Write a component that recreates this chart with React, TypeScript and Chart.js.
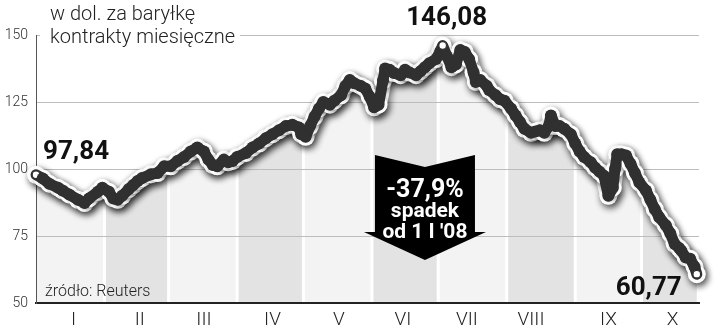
import React, { useEffect, useRef } from 'react';
import { Chart, registerables } from 'chart.js';

Chart.register(...registerables);

// ---- data ----
const tradingDays = [
  0, 3, 6, 10, 12, 15, 19, 22, 24, 28, 30, 33, 35, 37, 39, 42, 44, 46, 48, 52,
  55, 58, 61, 64, 67, 70, 73, 76, 78, 80, 82, 85, 87, 89, 91, 95, 98, 101, 104, 107,
  110, 113, 116, 119, 120, 122, 124, 126, 128, 130, 133, 135, 138, 140, 142, 144, 147, 149, 151, 153,
  155, 157, 158, 160, 162, 165, 167, 169, 172, 174, 176, 178, 181, 183, 184, 186, 188, 190, 192, 194,
  196, 198, 199, 201, 204, 205, 208, 210, 212, 215, 217, 219, 221, 224, 226, 228, 230, 232, 233, 235,
  237, 239, 242, 244, 246, 248, 251, 253, 255, 257, 259, 261, 262, 263, 265, 267, 269, 271, 273, 276,
  278, 280, 282, 285, 287, 289, 291, 292, 294, 296, 298, 299,
];
const prices = [
  97.84, 96.5, 94.5, 93, 92, 90.5, 88.5, 87.3, 89, 91.5, 93, 91.5, 89, 88.5, 90, 92.5, 94, 95.5, 96.6, 98,
  98.5, 101, 101, 103, 104.5, 106.5, 108, 106.5, 103.5, 101.5, 101, 103.5, 102.5, 103, 104.5, 106, 108, 109.5, 111.5, 113,
  114.5, 116, 116.5, 115.5, 113, 112, 116, 119.5, 122.5, 125, 124, 125.5, 127.5, 131, 133.2, 132, 131, 130, 127, 123,
  124, 133, 137.5, 137, 135.8, 135, 137, 136, 135, 136.5, 138, 139.5, 141, 144, 146.08, 142, 138, 139, 144.4, 143.7,
  141, 136, 132.5, 133.2, 131, 129.5, 127.5, 126, 125.5, 122.5, 120, 117.5, 115, 113.5, 114, 114.5, 113.5, 116, 120, 116,
  116, 115, 113, 109.5, 106.5, 104.5, 102.5, 100.5, 99, 97.5, 90, 93, 100, 105.5, 105.5, 105, 102, 98.5, 95, 92,
  88.5, 85, 82, 79, 76, 72, 70.5, 69.5, 67, 66.5, 63.5, 60.77,
];
const monthLabels = ['I', 'II', 'III', 'IV', 'V', 'VI', 'VII', 'VIII', 'IX', 'X'];
const monthStartDays = [0, 31, 60, 91, 121, 152, 182, 213, 244, 274];
const monthLabelDays = [17, 47, 76, 107, 137, 166, 195, 224, 259, 288];
const lastDay = 300;
const yMin = 50;
const yMax = 150;
const yStep = 25;
const titleLines = ['w dol. za baryłkę', 'kontrakty miesięczne'];
const sourceText = 'źródło: Reuters';
const startLabel = '97,84';
const peakLabel = '146,08';
const endLabel = '60,77';
const arrowLines = ['-37,9%', 'spadek', "od 1 I '08"];
const arrowDay = 176;
const arrowTopValue = 105.2;
const arrowTipValue = 66;

const peakIndex = prices.indexOf(Math.max(...prices));
const lastIndex = prices.length - 1;

const LINE_DARK = '#303030';
const FONT = 'Roboto, "Open Sans", sans-serif';

const isMarker = (i: number) => i === 0 || i === peakIndex || i === lastIndex;

const bandsPlugin = {
  id: 'monthBands',
  beforeDraw(chart: any) {
    const meta = chart.getDatasetMeta(0);
    const pts = meta.data;
    if (!pts || !pts.length) return;
    const { top, bottom } = chart.chartArea;
    const xs = chart.scales.x;
    const ctx = chart.ctx;
    ctx.save();
    ctx.beginPath();
    ctx.moveTo(pts[0].x, bottom);
    pts.forEach((p: any) => ctx.lineTo(p.x, p.y));
    ctx.lineTo(pts[pts.length - 1].x, bottom);
    ctx.closePath();
    ctx.clip();
    monthStartDays.forEach((d, i) => {
      const x0 = xs.getPixelForValue(d);
      const x1 = xs.getPixelForValue(i + 1 < monthStartDays.length ? monthStartDays[i + 1] : lastDay);
      ctx.fillStyle = i % 2 ? '#e3e3e3' : '#f3f3f3';
      const g = i === 0 ? 0 : 1.5;
      ctx.fillRect(x0 + g, top - 20, x1 - x0 - g - 1.5, bottom - top + 20);
    });
    ctx.restore();
  },
};

const shadowPlugin = {
  id: 'lineShadow',
  beforeDatasetDraw(chart: any, args: any) {
    if (args.index === 1) {
      const c = chart.ctx;
      c.save();
      c.shadowColor = 'rgba(0,0,0,0.45)';
      c.shadowBlur = 7;
      c.shadowOffsetX = 2;
      c.shadowOffsetY = 3;
    }
  },
  afterDatasetDraw(chart: any, args: any) {
    if (args.index === 1) chart.ctx.restore();
  },
};

const textPlugin = {
  id: 'annotations',
  afterDraw(chart: any) {
    const ctx = chart.ctx;
    const xs = chart.scales.x;
    const ys = chart.scales.y;
    ctx.save();

    // title with white backing (hides the top grid line)
    ctx.fillStyle = '#fff';
    ctx.fillRect(40, 0, 200, 47);
    ctx.fillStyle = '#222';
    ctx.font = `300 20px ${FONT}`;
    ctx.textAlign = 'left';
    ctx.textBaseline = 'alphabetic';
    ctx.fillText(titleLines[0], 50, 20);
    ctx.fillText(titleLines[1], 50, 43);

    // source
    ctx.font = `300 16px ${FONT}`;
    ctx.fillStyle = '#222';
    ctx.fillText(sourceText, 45, 296);

    // value labels
    ctx.fillStyle = '#111';
    ctx.font = `700 26px ${FONT}`;
    ctx.textBaseline = 'middle';
    const p0x = xs.getPixelForValue(tradingDays[0]);
    const p0y = ys.getPixelForValue(prices[0]);
    ctx.textAlign = 'left';
    ctx.fillText(startLabel, p0x + 7, p0y - 22);
    const pkx = xs.getPixelForValue(tradingDays[peakIndex]);
    const pky = ys.getPixelForValue(prices[peakIndex]);
    ctx.textAlign = 'center';
    ctx.fillText(peakLabel, pkx + 4, pky - 27);
    const plx = xs.getPixelForValue(tradingDays[lastIndex]);
    const ply = ys.getPixelForValue(prices[lastIndex]);
    ctx.textAlign = 'right';
    ctx.fillText(endLabel, plx - 15, ply + 14);

    // arrow
    const cx = xs.getPixelForValue(arrowDay);
    const topY = ys.getPixelForValue(arrowTopValue);
    const tipY = ys.getPixelForValue(arrowTipValue);
    const bodyHalf = 50;
    const wingHalf = 61;
    const wingY = tipY - 28;
    ctx.fillStyle = '#000';
    ctx.beginPath();
    ctx.moveTo(cx - bodyHalf, topY);
    ctx.lineTo(cx, topY + 12);
    ctx.lineTo(cx + bodyHalf, topY);
    ctx.lineTo(cx + bodyHalf, wingY);
    ctx.lineTo(cx + wingHalf, wingY);
    ctx.lineTo(cx, tipY);
    ctx.lineTo(cx - wingHalf, wingY);
    ctx.lineTo(cx - bodyHalf, wingY);
    ctx.closePath();
    ctx.fill();

    ctx.fillStyle = '#fff';
    ctx.textAlign = 'center';
    ctx.textBaseline = 'alphabetic';
    ctx.font = `700 25px ${FONT}`;
    ctx.fillText(arrowLines[0], cx, topY + 42);
    ctx.font = `700 21px ${FONT}`;
    ctx.fillText(arrowLines[1], cx, topY + 62);
    ctx.fillText(arrowLines[2], cx, topY + 83);

    ctx.restore();
  },
};

export default function App() {
  const ref = useRef<HTMLCanvasElement | null>(null);

  useEffect(() => {
    document.body.style.margin = '0';
    const canvas = ref.current;
    if (!canvas) return;
    const points = tradingDays.map((d, i) => ({ x: d, y: prices[i] }));
    const chart = new Chart(canvas, {
      type: 'line',
      data: {
        datasets: [
          {
            data: points,
            borderColor: LINE_DARK,
            borderWidth: 11,
            borderJoinStyle: 'round',
            borderCapStyle: 'round',
            fill: false,
            tension: 0,
            pointRadius: (c: any) => (isMarker(c.dataIndex) ? 3.8 : 6),
            pointBackgroundColor: (c: any) => (isMarker(c.dataIndex) ? '#fff' : LINE_DARK),
            pointBorderColor: LINE_DARK,
            pointBorderWidth: (c: any) => (isMarker(c.dataIndex) ? 1.2 : 0),
            clip: false,
          } as any,
          {
            data: points,
            borderColor: '#fff',
            borderWidth: 17,
            borderJoinStyle: 'round',
            borderCapStyle: 'round',
            fill: false,
            tension: 0,
            pointRadius: 9,
            pointBackgroundColor: '#fff',
            pointBorderWidth: 0,
            clip: false,
          } as any,
        ],
      },
      options: {
        responsive: false,
        animation: false,
        events: [],
        layout: { padding: { top: 35, right: 21, left: 0, bottom: 0 } },
        plugins: {
          legend: { display: false },
          tooltip: { enabled: false },
          title: { display: false },
        },
        scales: {
          x: {
            type: 'linear',
            min: 0,
            max: lastDay,
            grid: { display: false, drawTicks: false },
            border: { display: true, color: '#222', width: 2 },
            afterBuildTicks: (axis: any) => {
              axis.ticks = monthLabelDays.map((v) => ({ value: v }));
            },
            afterFit: (axis: any) => {
              axis.height = 28;
            },
            ticks: {
              autoSkip: false,
              maxRotation: 0,
              padding: 6,
              color: '#222',
              font: { family: FONT, size: 19, weight: '300' },
              callback: (_v: any, i: number) => monthLabels[i],
            },
          },
          y: {
            min: yMin,
            max: yMax,
            grid: { color: '#bdbdbd', lineWidth: 1, drawTicks: false },
            border: { display: true, color: '#555', width: 1 },
            afterFit: (axis: any) => {
              axis.width = 36;
            },
            ticks: {
              stepSize: yStep,
              padding: 8,
              color: '#333',
              font: { family: FONT, size: 14, weight: '300' },
            },
          },
        },
      } as any,
      plugins: [bandsPlugin, shadowPlugin, textPlugin],
    });
    return () => chart.destroy();
  }, []);

  return (
    <div style={{ position: 'absolute', left: 0, top: 0, width: 720, height: 331, background: '#fff' }}>
      <canvas ref={ref} width={720} height={331} />
    </div>
  );
}
